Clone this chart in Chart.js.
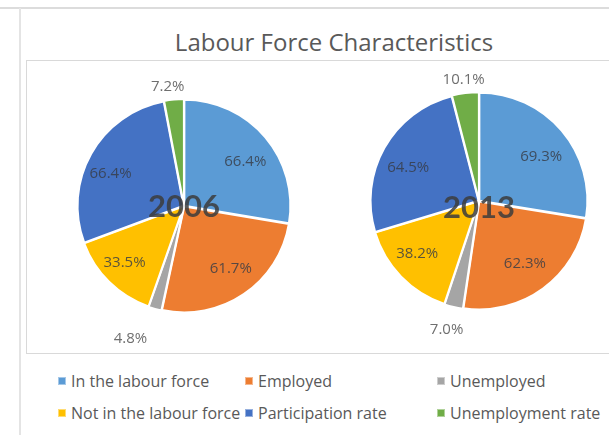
<!DOCTYPE html>
<html>
<head>
<meta charset="utf-8">
<script src="https://cdn.jsdelivr.net/npm/chart.js@4/dist/chart.umd.min.js"></script>
<style>
  html, body { margin: 0; padding: 0; background: #fff; }
  body { width: 609px; height: 435px; position: relative; overflow: hidden; font-family: "Open Sans", Lato, sans-serif; }
  .frame-top { position: absolute; left: 0; top: 7px; width: 609px; height: 2px; background: #dcdcdc; }
  .frame-left { position: absolute; left: 19px; top: 8px; width: 2px; height: 427px; background: #e4e4e4; }
  .plot-box { position: absolute; left: 26px; top: 60px; width: 600px; height: 292px; border: 1.5px solid #d9d9d9; border-right: none; }
  .title { position: absolute; left: 20px; width: 628px; top: 26px; text-align: center; font-size: 24px; color: #595959; line-height: 32px; }
  canvas { position: absolute; }
  .legend-item { position: absolute; font-size: 16px; color: #595959; line-height: 20px; white-space: nowrap; }
  .legend-item .mk { position: absolute; left: -13px; top: 6px; width: 8px; height: 8px; box-sizing: border-box; border: 1px solid rgba(255,255,255,0.45); }
</style>
</head>
<body>
<div class="frame-top"></div>
<div class="frame-left"></div>
<div class="plot-box"></div>
<div class="title">Labour Force Characteristics</div>
<canvas id="pie2006" width="280" height="300" style="left:44px;top:56px;width:280px;height:300px"></canvas>
<canvas id="pie2013" width="280" height="300" style="left:339px;top:51px;width:280px;height:300px"></canvas>
<div id="legend"></div>
<script>
// Labour force categories (same order in both years)
const categories = [
  'In the labour force',
  'Employed',
  'Unemployed',
  'Not in the labour force',
  'Participation rate',
  'Unemployment rate'
];
const years = ['2006', '2013'];
const values2006 = [66.4, 61.7, 4.8, 33.5, 66.4, 7.2];
const values2013 = [69.3, 62.3, 7.0, 38.2, 64.5, 10.1];
const sliceColors = ['#5b9bd5', '#ed7d31', '#a5a5a5', '#ffc000', '#4472c4', '#70ad47'];

// Percentage labels inside large slices, outside small ones, plus the year in the middle
const sliceLabels = {
  id: 'sliceLabels',
  afterDatasetsDraw(chart, args, opts) {
    const ctx = chart.ctx;
    const meta = chart.getDatasetMeta(0);
    const data = chart.data.datasets[0].data;
    ctx.save();
    ctx.textAlign = 'center';
    ctx.textBaseline = 'middle';
    let cx = 0, cy = 0;
    meta.data.forEach((arc, i) => {
      const p = arc.getProps(['x', 'y', 'startAngle', 'endAngle', 'outerRadius', 'circumference'], true);
      cx = p.x; cy = p.y;
      const mid = (p.startAngle + p.endAngle) / 2;
      const small = p.circumference < Math.PI * 2 * 0.05;
      const dist = small ? p.outerRadius + opts.outsideGap : p.outerRadius * opts.insideRatio;
      const nudge = (opts.nudges && opts.nudges[i]) || [0, 0];
      const lx = p.x + Math.cos(mid) * dist + nudge[0];
      const ly = p.y + Math.sin(mid) * dist + nudge[1];
      ctx.font = '15px "Open Sans", Lato, sans-serif';
      ctx.fillStyle = small ? '#6f6f6f' : 'rgba(55,60,70,0.82)';
      ctx.fillText(data[i].toFixed(1) + '%', lx, ly);
    });
    ctx.font = 'bold 31px Lato, "Open Sans", sans-serif';
    ctx.fillStyle = 'rgba(60,60,60,0.85)';
    ctx.fillText(opts.year, cx + (opts.yearDx || 0), cy + (opts.yearDy || 0));
    ctx.restore();
  }
};

function makePie(id, values, year, radius, nudges, yearDy) {
  return new Chart(document.getElementById(id), {
    type: 'pie',
    data: {
      labels: categories,
      datasets: [{
        data: values,
        backgroundColor: sliceColors,
        borderColor: '#ffffff',
        borderWidth: 2,
        offset: 2,
        radius: radius
      }]
    },
    options: {
      responsive: false,
      animation: false,
      events: [],
      layout: { padding: 0 },
      plugins: {
        legend: { display: false },
        tooltip: { enabled: false },
        title: { display: false },
        sliceLabels: { year: year, insideRatio: 0.72, outsideGap: 14, nudges: nudges, yearDy: yearDy }
      }
    },
    plugins: [sliceLabels]
  });
}

makePie('pie2006', values2006, years[0], 106,
  { 0: [3, 5], 1: [4, 0], 2: [-21, 17], 3: [-6, 2], 4: [-7, 5], 5: [-5, 0] }, 1);
makePie('pie2013', values2013, years[1], 108,
  { 0: [3, 6], 2: [-4, 10], 3: [-6, -1], 4: [-3, 5] }, 7);

// Legend: two rows of three entries
const legendCols = [71, 258, 450];
const legendRows = [371, 403];
const legend = document.getElementById('legend');
categories.forEach((name, i) => {
  const item = document.createElement('div');
  item.className = 'legend-item';
  item.style.left = legendCols[i % 3] + 'px';
  item.style.top = legendRows[Math.floor(i / 3)] + 'px';
  const mk = document.createElement('span');
  mk.className = 'mk';
  mk.style.background = sliceColors[i];
  item.appendChild(mk);
  item.appendChild(document.createTextNode(name));
  legend.appendChild(item);
});
</script>
</body>
</html>
